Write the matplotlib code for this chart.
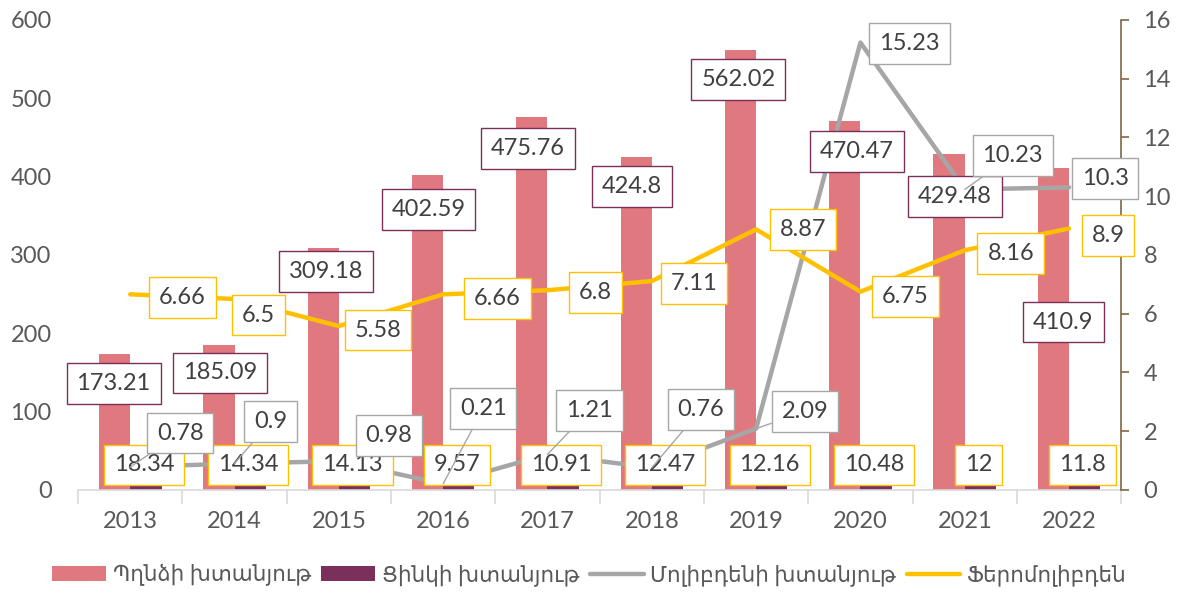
import matplotlib
matplotlib.use("Agg")
import matplotlib.pyplot as plt
import numpy as np

years = ["2013", "2014", "2015", "2016", "2017", "2018", "2019", "2020", "2021", "2022"]
copper = [173.21, 185.09, 309.18, 402.59, 475.76, 424.8, 562.02, 470.47, 429.48, 410.9]
zinc = [18.34, 14.34, 14.13, 9.57, 10.91, 12.47, 12.16, 10.48, 12, 11.8]
molyb = [0.78, 0.9, 0.98, 0.21, 1.21, 0.76, 2.09, 15.23, 10.23, 10.3]
ferro = [6.66, 6.5, 5.58, 6.66, 6.8, 7.11, 8.87, 6.75, 8.16, 8.9]
copper_lbl = ["173.21", "185.09", "309.18", "402.59", "475.76", "424.8", "562.02", "470.47", "429.48", "410.9"]
zinc_lbl = ["18.34", "14.34", "14.13", "9.57", "10.91", "12.47", "12.16", "10.48", "12", "11.8"]
molyb_lbl = ["0.78", "0.9", "0.98", "0.21", "1.21", "0.76", "2.09", "15.23", "10.23", "10.3"]
ferro_lbl = ["6.66", "6.5", "5.58", "6.66", "6.8", "7.11", "8.87", "6.75", "8.16", "8.9"]
legend_names = ["Պղնձի խտանյութ", "Ցինկի խտանյութ", "Մոլիբդենի խտանյութ", "Ֆերոմոլիբդեն"]

C_COP = "#E0787F"
C_ZIN = "#7B2F5B"
C_MOL = "#A6A6A6"
C_FER = "#FFC000"
TXT = "#404040"
TICK = "#595959"
FAM = ["Lato", "DejaVu Sans"]
plt.rcParams['font.family'] = FAM

fig = plt.figure(figsize=(11.79, 5.95), dpi=100)
ax = fig.add_axes([0.0662, 0.1765, 0.8848, 0.79])
ax2 = ax.twinx()

x = np.arange(len(years))
w = 0.3
ax.bar(x - w / 2, copper, w, color=C_COP, zorder=2, label=legend_names[0])
ax.bar(x + w / 2, zinc, w, color=C_ZIN, zorder=2, label=legend_names[1])
ax2.plot(x, molyb, color=C_MOL, lw=3.2, solid_capstyle='round', label=legend_names[2], zorder=3)
ax2.plot(x, ferro, color=C_FER, lw=3.2, solid_capstyle='round', label=legend_names[3], zorder=3)

ax.set_xlim(-0.5, len(years) - 0.5)
ax.set_ylim(0, 600)
ax2.set_ylim(0, 16)
ax.set_yticks(np.arange(0, 601, 100))
ax2.set_yticks(np.arange(0, 17, 2))
ax.set_xticks(x)
ax.set_xticklabels(years)
ax.set_xticks(np.arange(-0.5, len(years)), minor=True)

for a in (ax, ax2):
    for s in ("top", "left"):
        a.spines[s].set_visible(False)
ax.spines["right"].set_visible(False)
ax2.spines["bottom"].set_visible(False)
ax.spines["bottom"].set_color("#D9D9D9")
ax.spines["bottom"].set_linewidth(1.2)
ax2.spines["right"].set_color("#7F6545")
ax2.spines["right"].set_linewidth(1.2)

ax.tick_params(axis='y', length=0, labelsize=17, labelcolor=TICK, pad=19)
ax.tick_params(axis='x', which='major', length=0, labelsize=17, labelcolor=TICK, pad=15)
ax.tick_params(axis='x', which='minor', length=10, color="#D9D9D9", width=1.2)
ax2.tick_params(axis='y', length=6, color="#7F6545", width=1.2, labelsize=17, labelcolor=TICK, pad=10)

fs = 17

def box(ec):
    return dict(boxstyle="square,pad=0.42", fc="white", ec=ec, lw=1.0)

# copper labels (offsets in pixels from bar top)
cop_off = [(-1, -29), (1, -28), (3, -24), (1, -35), (-4, -31), (-4, -29), (-2, -30), (12, -30), (6, -43), (10, -154)]
for i, (v, t) in enumerate(zip(copper, copper_lbl)):
    ax2.annotate(t, xy=(x[i] - w / 2, v), xycoords=ax.transData, xytext=cop_off[i],
                 textcoords='offset pixels', ha='center', va='center', fontsize=fs,
                 color=TXT, bbox=box(C_ZIN), zorder=6)

# zinc labels (25 px above the baseline)
for i, t in enumerate(zinc_lbl):
    ax2.annotate(t, xy=(x[i] + w / 2, 0), xycoords=ax.transData, xytext=(-2, 25),
                 textcoords='offset pixels', ha='center', va='center', fontsize=fs,
                 color=TXT, bbox=box(C_FER), zorder=6)

# ferro labels
fer_off = [(52, -3), (24, -16), (39, -4), (54, -4), (48, -2), (42, -2), (47, 0), (45, -5), (46, -3), (39, -7)]
for i, (v, t) in enumerate(zip(ferro, ferro_lbl)):
    ax2.annotate(t, xy=(x[i], v), xytext=fer_off[i], textcoords='offset pixels',
                 ha='center', va='center', fontsize=fs, color=TXT, bbox=box(C_FER), zorder=6)

# molybdenum labels
mol_off = [(50, 34), (36, 42), (50, 26), (40, 75), (42, 44), (49, 58), (49, 17), (49, -1), (48, 34), (36, 9)]
leader = [True, True, False, True, True, True, True, False, True, False]
for i, (v, t) in enumerate(zip(molyb, molyb_lbl)):
    ap = dict(arrowstyle='-', color=C_MOL, lw=1, shrinkA=0, shrinkB=0) if leader[i] else None
    ax2.annotate(t, xy=(x[i], v), xytext=mol_off[i], textcoords='offset pixels',
                 ha='center', va='center', fontsize=fs, color=TXT, bbox=box(C_MOL),
                 arrowprops=ap, zorder=7)

h1, l1 = ax.get_legend_handles_labels()
h2, l2 = ax2.get_legend_handles_labels()
fig.legend(h1 + h2, l1 + l2, loc='lower center', bbox_to_anchor=(0.5, -0.018), ncol=4,
           frameon=False, fontsize=15.5, labelcolor=TICK, handlelength=2.5, handleheight=0.7,
           handletextpad=0.3, columnspacing=0.5)

fig.savefig("out.png", dpi=100)
